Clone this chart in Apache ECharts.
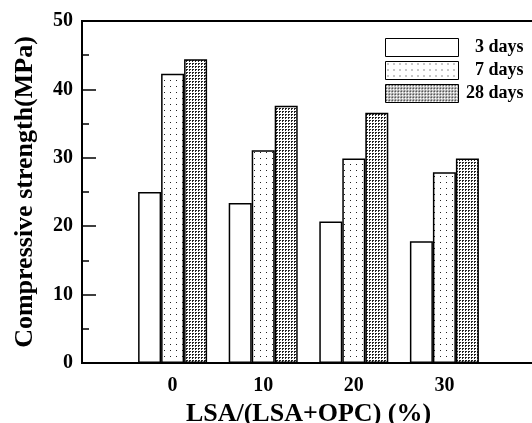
<!DOCTYPE html>
<html>
<head>
<meta charset="utf-8">
<script src="https://cdn.jsdelivr.net/npm/echarts@6/dist/echarts.min.js"></script>
<style>
  html, body { margin: 0; padding: 0; background: #fff; }
  #chart { width: 532px; height: 423px; }
</style>
</head>
<body>
<div id="chart"></div>
<script>
// LSA/(LSA+OPC) replacement levels, %
var lsaLevels = [0, 10, 20, 30];
var seriesNames = ["3 days", "7 days", "28 days"];
// compressive strength, MPa
var strength3d = [25.0, 23.4, 20.7, 17.8];
var strength7d = [42.3, 31.1, 29.9, 27.9];
var strength28d = [44.4, 37.6, 36.6, 29.9];
var yTicks = [0, 10, 20, 30, 40, 50];

var FONT = "Liberation Serif";

// little canvases used as hatch fills
function makePattern(w, h, dots) {
  var c = document.createElement("canvas");
  c.width = w;
  c.height = h;
  var ctx = c.getContext("2d");
  ctx.fillStyle = "#fff";
  ctx.fillRect(0, 0, w, h);
  ctx.fillStyle = "#222";
  dots.forEach(function (d) {
    ctx.fillRect(d[0], d[1], 1, 1);
  });
  return { image: c, repeat: "repeat" };
}

var sparseDots = makePattern(6, 6, [[2, 2]]);
var denseDots = makePattern(3, 3, [[0, 0], [1, 0], [0, 1]]);

function pairs(vals) {
  var out = [];
  for (var i = 0; i < vals.length; i++) out.push([lsaLevels[i], vals[i]]);
  return out;
}

function barSeries(name, vals, fill) {
  return {
    name: name,
    type: "bar",
    data: pairs(vals),
    barWidth: 23,
    barGap: "0%",
    itemStyle: {
      color: fill,
      borderColor: "#000",
      borderWidth: 1.5,
    },
    emphasis: { disabled: true },
  };
}

var myChart = echarts.init(document.getElementById("chart"));
var options = {
  animation: false,
  backgroundColor: "#fff",
  grid: {
    left: 82,
    right: -3,
    top: 21,
    bottom: 60,
    show: true,
    borderColor: "#000",
    borderWidth: 2,
    outerBoundsMode: "none",
  },
  legend: {
    orient: "vertical",
    left: 380,
    top: 33,
    itemWidth: 73,
    itemHeight: 18,
    itemGap: 4,
    icon: "rect",
    data: seriesNames,
    itemStyle: { borderColor: "#000", borderWidth: 1 },
    formatter: function (n) {
      return "{r|" + n + "}";
    },
    textStyle: {
      color: "#000",
      rich: {
        r: {
          width: 60,
          align: "right",
          fontFamily: FONT,
          fontWeight: "bold",
          fontSize: 18,
          color: "#000",
        },
      },
    },
  },
  xAxis: {
    type: "value",
    min: -10,
    max: 40,
    interval: 10,
    name: "LSA/(LSA+OPC) (%)",
    nameLocation: "middle",
    nameGap: 33,
    nameTextStyle: { fontFamily: FONT, fontWeight: "bold", fontSize: 26, color: "#000" },
    axisLine: { onZero: false, lineStyle: { color: "#000", width: 2 } },
    axisTick: { show: false },
    splitLine: { show: false },
    axisLabel: {
      margin: 13,
      fontFamily: FONT,
      fontWeight: "bold",
      fontSize: 20,
      color: "#000",
      formatter: function (v) {
        return lsaLevels.indexOf(v) >= 0 ? String(v) : "";
      },
    },
  },
  yAxis: {
    type: "value",
    min: yTicks[0],
    max: yTicks[yTicks.length - 1],
    interval: 10,
    name: "Compressive strength(MPa)",
    nameLocation: "middle",
    nameGap: 44,
    nameTextStyle: { fontFamily: FONT, fontWeight: "bold", fontSize: 26, color: "#000" },
    axisLine: { show: true, onZero: false, lineStyle: { color: "#000", width: 2 } },
    axisTick: { show: true, inside: true, length: 14, lineStyle: { color: "#000", width: 1.5 } },
    minorTick: { show: true, splitNumber: 2, length: 7, lineStyle: { color: "#000", width: 1.5 } },
    splitLine: { show: false },
    axisLabel: {
      margin: 9,
      fontFamily: FONT,
      fontWeight: "bold",
      fontSize: 20,
      color: "#000",
    },
  },
  series: [
    barSeries(seriesNames[0], strength3d, "#fff"),
    barSeries(seriesNames[1], strength7d, sparseDots),
    barSeries(seriesNames[2], strength28d, denseDots),
  ],
};
myChart.setOption(options);
</script>
</body>
</html>
